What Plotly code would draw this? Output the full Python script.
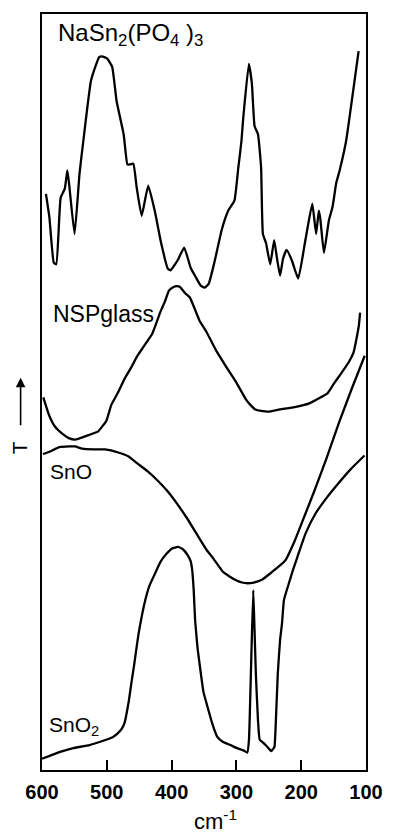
import plotly.graph_objects as go

# Far-IR transmission spectra (wavenumber in cm^-1, transmittance in arbitrary units,
# each trace already carries its own vertical offset in the stack)

nsp_wn = [593.9, 588.6, 581.8, 578.0, 571.2, 564.8, 560.9, 557.9, 549.7, 542.1,
          537.1, 529.5, 524.6, 519.0, 511.8, 507.6, 503.8, 499.3, 491.7, 484.9,
          474.0, 468.2, 464.4, 459.1, 453.8, 446.2, 436.1, 426.1, 415.9, 405.8,
          401.5, 396.2, 390.2, 380.6, 370.5, 362.1, 355.3, 349.3, 342.8, 334.1,
          322.5, 312.5, 303.1, 297.0, 292.2, 289.4, 280.8, 276.1, 272.0, 266.7,
          261.9, 259.1, 254.3, 247.8, 241.7, 237.2, 232.6, 228.1, 222.5, 214.4,
          204.6, 193.7, 182.9, 177.0, 172.8, 170.5, 164.9, 157.3, 151.6, 145.8,
          140.7, 130.7, 120.5, 111.4]
nsp_t = [76.2, 73.1, 67.1, 66.9, 75.7, 76.9, 79.3, 77.3, 70.9, 78.9,
         82.6, 88.0, 91.1, 92.7, 94.3, 94.4, 94.3, 94.1, 93.0, 88.5,
         84.1, 80.1, 80.1, 80.2, 77.0, 73.3, 77.3, 74.0, 69.6, 66.3,
         66.1, 66.7, 67.5, 69.1, 66.4, 65.1, 64.1, 63.8, 64.3, 67.1,
         71.5, 74.0, 75.3, 79.7, 83.2, 86.3, 93.4, 90.8, 85.2, 84.1,
         79.7, 70.9, 69.7, 66.9, 70.1, 67.6, 65.4, 67.6, 68.8, 67.4,
         65.0, 70.0, 74.9, 70.9, 74.0, 72.9, 68.4, 72.7, 74.5, 77.7,
         79.3, 83.2, 89.4, 95.1]

glass_wn = [598.0, 588.9, 579.8, 568.8, 558.6, 548.8, 528.3, 513.2, 505.6, 500.6,
            493.0, 482.9, 472.3, 462.7, 452.6, 442.4, 429.9, 417.3, 409.7, 404.1,
            397.0, 392.0, 387.0, 379.4, 371.8, 356.7, 346.5, 331.4, 316.2, 301.1,
            285.9, 278.4, 270.8, 261.7, 251.1, 232.9, 210.2, 187.5, 169.7, 159.7,
            149.6, 140.5, 126.9, 119.3, 114.3, 111.0, 109.1]
glass_t = [49.3, 46.9, 45.4, 44.5, 43.9, 43.7, 44.3, 44.8, 45.6, 46.2,
           48.3, 49.9, 51.8, 53.2, 54.8, 56.1, 57.7, 60.6, 62.1, 63.4,
           63.9, 64.0, 63.9, 63.1, 62.5, 59.4, 58.0, 55.5, 53.4, 51.4,
           49.1, 48.3, 47.7, 47.5, 47.4, 47.7, 48.0, 48.5, 49.3, 49.8,
           51.1, 52.2, 53.9, 55.2, 57.2, 58.8, 60.5]

sno_wn = [598.5, 588.3, 573.2, 558.0, 548.9, 537.9, 520.2, 502.4, 482.3, 467.1,
          452.0, 436.8, 421.7, 406.5, 391.4, 376.2, 361.1, 345.9, 335.8, 320.6,
          310.6, 300.5, 291.4, 282.8, 273.2, 260.0, 244.9, 232.3, 224.7, 209.6,
          194.4, 179.3, 161.1, 141.4, 121.7, 102.0]
sno_t = [41.8, 42.1, 42.7, 42.8, 42.8, 42.5, 42.4, 42.4, 42.0, 41.5,
         40.5, 39.5, 38.3, 36.9, 35.2, 33.3, 31.2, 29.1, 28.0, 26.2,
         25.6, 25.1, 24.8, 24.7, 24.8, 25.2, 26.2, 27.1, 27.7, 30.4,
         33.7, 37.0, 41.2, 46.0, 50.5, 54.8]

sno2_wn = [600.0, 587.1, 572.0, 551.8, 526.5, 501.2, 491.7, 483.6, 476.5, 472.0,
           469.0, 465.9, 462.1, 458.3, 450.8, 440.6, 434.1, 425.5, 417.4, 407.9,
           399.3, 390.2, 382.6, 375.0, 370.5, 368.2, 365.9, 363.7, 359.9, 354.9,
           350.8, 344.7, 337.1, 329.6, 320.5, 309.4, 299.3, 289.1, 283.1, 280.6,
           277.3, 274.0, 272.0, 270.0, 266.7, 264.0, 258.4, 253.8, 246.2, 243.2,
           241.2, 238.7, 236.1, 232.6, 229.6, 226.6, 219.0, 212.9, 205.8, 193.2,
           178.1, 159.9, 142.8, 123.5, 102.3]
sno2_t = [1.5, 1.9, 2.4, 2.9, 3.3, 4.0, 4.3, 4.8, 5.5, 6.4,
          7.7, 9.2, 11.5, 13.6, 18.1, 22.5, 24.4, 26.0, 27.5, 28.6,
          29.3, 29.5, 29.2, 28.4, 27.6, 26.4, 23.8, 19.8, 16.1, 12.8,
          10.3, 8.4, 6.1, 4.4, 3.7, 3.3, 2.9, 2.6, 2.3, 4.0,
          13.9, 23.8, 18.5, 12.8, 6.6, 4.0, 3.6, 3.2, 2.5, 2.8,
          3.1, 7.3, 12.8, 17.2, 19.4, 22.5, 24.7, 26.4, 28.2, 31.3,
          33.9, 36.1, 37.9, 39.8, 41.6]

tick_vals = [600, 500, 400, 300, 200, 100]
tick_text = ["600", "500", "400", "300", "200", "100"]

series = [
    (nsp_wn, nsp_t),
    (glass_wn, glass_t),
    (sno_wn, sno_t),
    (sno2_wn, sno2_t),
]

fig = go.Figure()
for wn, t in series:
    fig.add_trace(go.Scatter(
        x=wn, y=t, mode="lines",
        line=dict(color="black", width=2.3, shape="spline", smoothing=0.4),
        showlegend=False, hoverinfo="skip",
    ))

FONT = "Liberation Sans, Arial, sans-serif"

def label_font(size):
    return dict(family=FONT, size=size, color="black")

labels = [
    ("NaSn<sub>2</sub>(PO<sub>4</sub> )<sub>3</sub>", 0.043, 0.973, 24),
    ("NSPglass", 0.029, 0.603, 23),
    ("SnO", 0.020, 0.395, 21),
    ("SnO<sub>2</sub>", 0.016, 0.058, 21),
]
for text, xp, yp, size in labels:
    fig.add_annotation(text=text, x=xp, y=yp, xref="paper", yref="paper",
                       xanchor="left", yanchor="middle", showarrow=False,
                       font=label_font(size))

# vertical axis caption: rotated "T" with an upward arrow above it
fig.add_annotation(text="T", x=-0.071, y=0.427, xref="paper", yref="paper",
                   xanchor="center", yanchor="middle",
                   textangle=-90, showarrow=False, font=label_font(21))
fig.add_annotation(text="", x=-0.066, y=0.519, xref="paper", yref="paper",
                   ax=0, ay=49, showarrow=True, arrowhead=2, arrowsize=1.2,
                   arrowwidth=1.6, arrowcolor="black")

# x-axis unit
fig.add_annotation(text="cm<sup>-1</sup>", x=0.535, y=-0.045, xref="paper", yref="paper",
                   xanchor="center", yanchor="top", showarrow=False,
                   font=label_font(22))

fig.update_xaxes(
    range=[600, 100], tickvals=tick_vals, ticktext=tick_text,
    ticks="inside", ticklen=10, tickwidth=2, tickcolor="black",
    ticklabelstandoff=3,
    showline=True, linecolor="black", linewidth=2, mirror=True,
    showgrid=False, zeroline=False,
    tickfont=dict(family=FONT, size=20, color="black", weight="bold"),
)
fig.update_yaxes(
    range=[0, 100], showticklabels=False, ticks="",
    showline=True, linecolor="black", linewidth=2, mirror=True,
    showgrid=False, zeroline=False,
)
fig.update_layout(
    width=395, height=835,
    margin=dict(l=42, r=22, t=13, b=65),
    paper_bgcolor="white", plot_bgcolor="white",
)

fig.write_html("out.html")
